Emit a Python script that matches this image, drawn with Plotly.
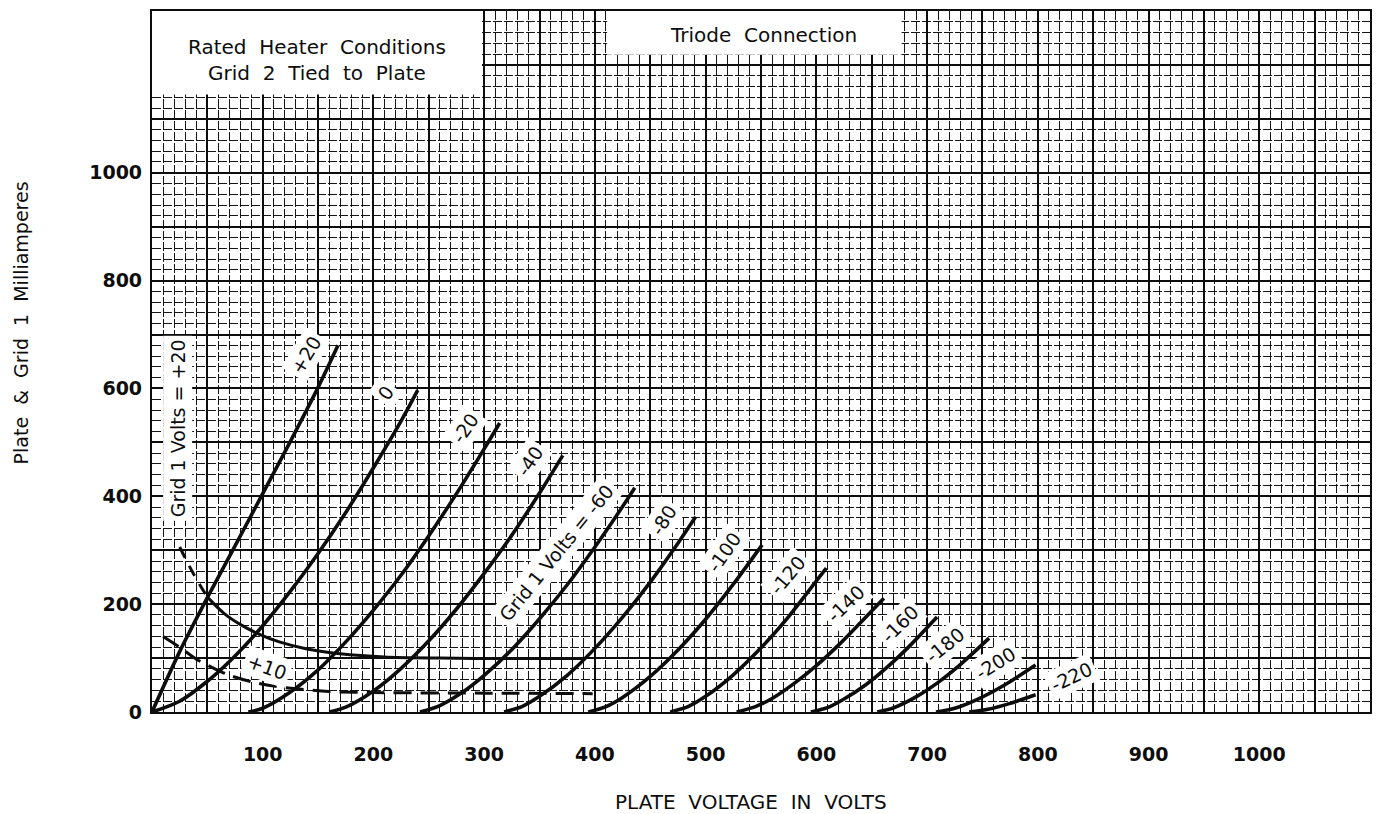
import plotly.graph_objects as go

# Plate characteristics, triode connection: plate volts vs plate milliamperes
v_p20 = [0, 25, 50, 75, 100, 125, 150, 168]
i_p20 = [0, 112, 212, 308, 405, 502, 602, 680]

v_0 = [0, 25, 50, 75, 100, 125, 150, 175, 200, 225, 240]
i_0 = [0, 20, 57, 104, 160, 224, 294, 370, 453, 540, 597]

v_m20 = [87, 100, 125, 150, 175, 200, 225, 250, 275, 300, 314]
i_m20 = [0, 7, 37, 78, 130, 189, 254, 327, 405, 488, 536]

v_m40 = [160, 175, 200, 225, 250, 275, 300, 325, 350, 371]
i_m40 = [0, 9, 39, 81, 132, 191, 257, 328, 406, 476]

v_m60 = [242, 260, 280, 300, 325, 350, 375, 400, 425, 436]
i_m60 = [0, 12, 36, 68, 116, 173, 236, 306, 381, 416]

v_m80 = [318, 335, 350, 375, 400, 425, 450, 475, 491]
i_m80 = [0, 11, 29, 68, 118, 176, 241, 313, 362]

v_m100 = [394, 410, 425, 450, 475, 500, 525, 551]
i_m100 = [0, 10, 27, 66, 115, 172, 237, 310]

v_m120 = [468, 485, 500, 525, 550, 575, 600, 609]
i_m120 = [0, 11, 29, 69, 119, 177, 243, 267]

v_m140 = [528, 545, 560, 580, 600, 620, 640, 661]
i_m140 = [0, 10, 25, 53, 86, 124, 166, 211]

v_m160 = [595, 610, 625, 645, 665, 685, 709]
i_m160 = [0, 8, 24, 51, 85, 124, 176]

v_m180 = [655, 670, 690, 710, 730, 756]
i_m180 = [0, 8, 28, 55, 88, 137]

v_m200 = [708, 725, 745, 770, 798]
i_m200 = [0, 7, 23, 50, 87]

v_m220 = [738, 755, 775, 798]
i_m220 = [0, 5, 16, 32]

# Grid 1 current curves
v_g1_20_dash = [25, 37, 50]
i_g1_20_dash = [306, 258, 213]
v_g1_20 = [50, 65, 80, 95, 115, 140, 170, 210, 260, 320, 392]
i_g1_20 = [213, 183, 162, 146, 130, 117, 108, 102, 100, 99, 99]

v_g1_10 = [10, 25, 40, 55, 70, 90, 110, 135, 160, 200, 300, 398]
i_g1_10 = [140, 120, 98, 82, 68, 56, 48, 42, 38, 36, 35, 34]

x_tick_values = [100, 200, 300, 400, 500, 600, 700, 800, 900, 1000]
y_tick_values = [0, 200, 400, 600, 800, 1000]

plate_curves = [
    (v_p20, i_p20), (v_0, i_0), (v_m20, i_m20), (v_m40, i_m40),
    (v_m60, i_m60), (v_m80, i_m80), (v_m100, i_m100), (v_m120, i_m120),
    (v_m140, i_m140), (v_m160, i_m160), (v_m180, i_m180),
    (v_m200, i_m200), (v_m220, i_m220),
]

FONT = "DejaVu Sans"
INK = "#0d0d0d"

fig = go.Figure()

for vx, iy in plate_curves:
    fig.add_trace(go.Scatter(
        x=vx, y=iy, mode="lines",
        line=dict(color=INK, width=3.6, shape="spline", smoothing=0.8),
        hoverinfo="skip", showlegend=False,
    ))

fig.add_trace(go.Scatter(
    x=v_g1_20_dash, y=i_g1_20_dash, mode="lines",
    line=dict(color=INK, width=3, dash="12px,9px", shape="spline"),
    hoverinfo="skip", showlegend=False,
))
fig.add_trace(go.Scatter(
    x=v_g1_20, y=i_g1_20, mode="lines",
    line=dict(color=INK, width=3, shape="spline", smoothing=0.8),
    hoverinfo="skip", showlegend=False,
))
fig.add_trace(go.Scatter(
    x=v_g1_10, y=i_g1_10, mode="lines",
    line=dict(color=INK, width=3, dash="18px,9px", shape="spline", smoothing=0.8),
    hoverinfo="skip", showlegend=False,
))

# Curve labels on white patches: (text, plate volts, mA, angle)
curve_labels = [
    ("+20", 139, 662, -59),
    ("0", 211, 591, -55),
    ("-20", 283, 526, -55),
    ("-40", 341, 466, -56),
    ("Grid 1 Volts = -60", 365, 295, -51),
    ("-80", 462, 356, -58),
    ("-100", 517, 296, -55),
    ("-120", 574, 254, -50),
    ("-140", 626, 201, -44),
    ("-160", 675, 164, -45),
    ("-180", 716, 125, -39),
    ("-200", 762, 91, -32),
    ("-220", 830, 65, -25),
    ("+10", 104, 83, 20),
    ("Grid 1 Volts = +20", 23, 527, -90),
]
for txt, vx, iy, ang in curve_labels:
    fig.add_annotation(
        x=vx, y=iy, xref="x", yref="y", text=txt, textangle=ang,
        showarrow=False, bgcolor="white", borderpad=3,
        font=dict(family=FONT, size=19, color=INK),
    )

# Note boxes cut out of the graph paper
fig.add_shape(type="rect", xref="x", yref="y", x0=0, x1=298, y0=1145, y1=1300,
              fillcolor="white", line=dict(width=0), layer="above")
fig.add_shape(type="rect", xref="x", yref="y", x0=411, x1=677, y0=1219, y1=1300,
              fillcolor="white", line=dict(width=0), layer="above")
fig.add_annotation(
    x=149, y=1210, xref="x", yref="y", showarrow=False,
    text="Rated\u00a0\u00a0Heater\u00a0\u00a0Conditions<br>Grid\u00a0\u00a02\u00a0\u00a0Tied\u00a0\u00a0to\u00a0\u00a0Plate",
    font=dict(family=FONT, size=20, color=INK), align="center",
)
fig.add_annotation(
    x=552, y=1255, xref="x", yref="y", showarrow=False,
    text="Triode\u00a0\u00a0Connection",
    font=dict(family=FONT, size=20, color=INK),
)

# Axis titles
fig.add_annotation(
    x=-0.108, y=0.555, xref="paper", yref="paper", xanchor="center", yanchor="middle",
    showarrow=False,
    text="Plate\u00a0\u00a0&\u00a0\u00a0Grid\u00a0\u00a01\u00a0\u00a0Milliamperes", textangle=-90,
    font=dict(family=FONT, size=19, color=INK),
)
fig.add_annotation(
    x=0.492, y=-0.128, xref="paper", yref="paper", xanchor="center", yanchor="middle",
    showarrow=False,
    text="PLATE\u00a0\u00a0VOLTAGE\u00a0\u00a0IN\u00a0\u00a0VOLTS",
    font=dict(family=FONT, size=20, color=INK),
)

x_major = list(range(0, 1101, 50))
y_major = list(range(0, 1301, 100))

fig.update_xaxes(
    range=[0, 1100], tickmode="array", tickvals=x_major,
    ticktext=[str(v) if v in x_tick_values else "" for v in x_major],
    showgrid=True, gridcolor=INK, gridwidth=1.8,
    minor=dict(dtick=10, tick0=0, showgrid=True, gridcolor="#151515",
               gridwidth=1.1, griddash="9px,2px"),
    showline=True, mirror=True, linecolor=INK, linewidth=2.2,
    ticks="", ticklabelstandoff=24, zeroline=False,
    tickfont=dict(family=FONT, size=19, color=INK, weight="bold"),
)
fig.update_yaxes(
    range=[0, 1300], tickmode="array", tickvals=y_major,
    ticktext=[str(v) if v in y_tick_values else "" for v in y_major],
    showgrid=True, gridcolor=INK, gridwidth=1.8,
    minor=dict(dtick=20, tick0=0, showgrid=True, gridcolor="#151515",
               gridwidth=1.1, griddash="9px,2px"),
    showline=True, mirror=True, linecolor=INK, linewidth=2.2,
    ticks="", ticklabelstandoff=4, zeroline=False,
    tickfont=dict(family=FONT, size=19, color=INK, weight="bold"),
)

fig.update_layout(
    width=1378, height=814,
    margin=dict(l=152, r=6, t=11, b=102),
    paper_bgcolor="white", plot_bgcolor="white",
    showlegend=False,
)

fig.write_html("out.html")
